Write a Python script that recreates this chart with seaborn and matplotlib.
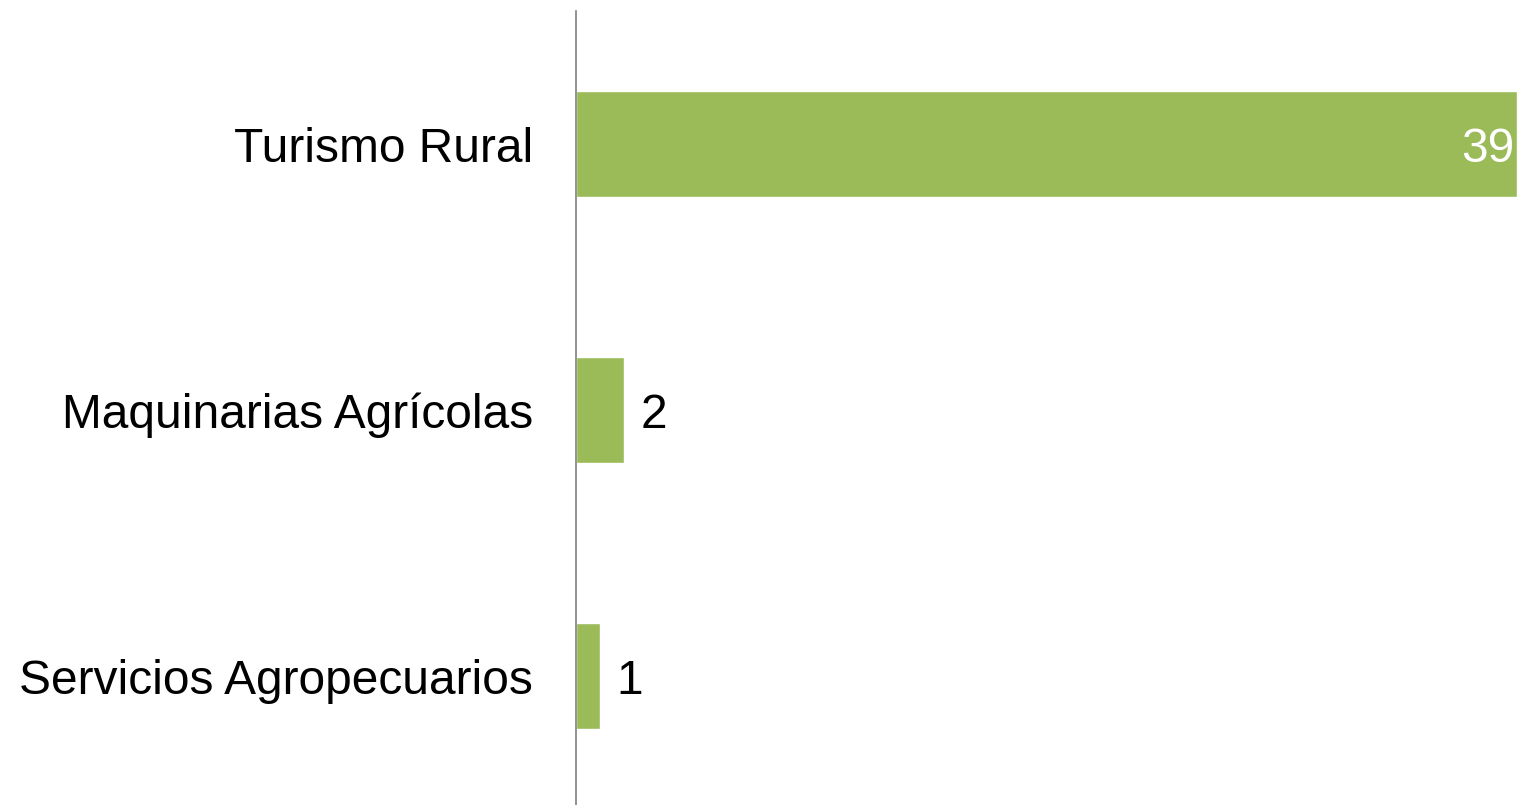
import matplotlib
matplotlib.use("Agg")
import matplotlib.pyplot as plt
import seaborn as sns
import pandas as pd

categorias = ["Turismo Rural", "Maquinarias Agrícolas", "Servicios Agropecuarios"]
valores = [39, 2, 1]

df = pd.DataFrame({"categoria": categorias, "valor": valores})

sns.set_style("white")
plt.rcParams["font.family"] = ["Liberation Sans", "DejaVu Sans"]

fig = plt.figure(figsize=(15.17, 8.05), dpi=100)
ax = fig.add_axes([576 / 1517, -4 / 805, 941 / 1517, 798 / 805])

sns.barplot(data=df, x="valor", y="categoria", orient="h", color="#9BBB59",
            saturation=1, width=0.4, ax=ax)

ax.set_xlim(0, 39)
ax.set_ylim(2.5, -0.5)
ax.set_xlabel("")
ax.set_ylabel("")
ax.set_xticks([])
ax.tick_params(axis="y", length=0, pad=31, labelsize=34.5, labelcolor="black")
for s in ["top", "right", "bottom"]:
    ax.spines[s].set_visible(False)
ax.spines["left"].set_color("#808080")
ax.spines["left"].set_linewidth(1.2)

# etiquetas de valor
for i, v in enumerate(valores):
    if v == max(valores):
        ax.annotate(str(v), (v, i), xytext=(-2, 0), textcoords="offset points",
                    ha="right", va="center_baseline", color="white", fontsize=34.5)
    else:
        ax.annotate(str(v), (v, i), xytext=(12, 0), textcoords="offset points",
                    ha="left", va="center_baseline", color="black", fontsize=34.5)

fig.savefig("out.png", dpi=100)
